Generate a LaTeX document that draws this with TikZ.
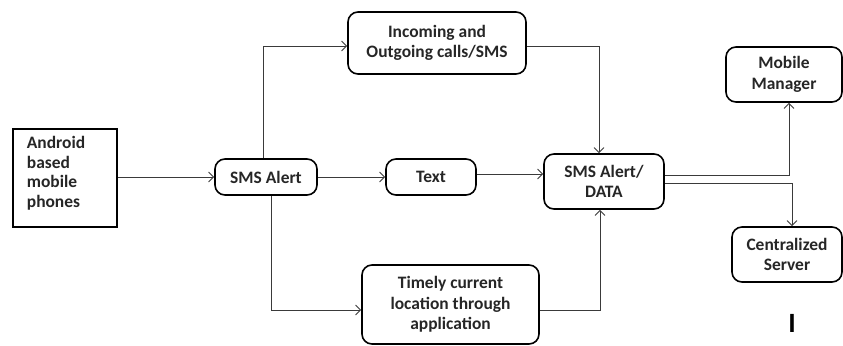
\documentclass[tikz,border=0pt]{standalone}
\usepackage{fontspec}
\setmainfont{Carlito}
\usetikzlibrary{arrows.meta,positioning}
\definecolor{txt}{HTML}{262626}
\definecolor{ln}{HTML}{3A3A3A}
\tikzset{
  box/.style={draw=black,line width=1.6pt,rounded corners=10bp,align=center,inner sep=2pt,
    font=\fontsize{17.5}{20.5}\selectfont\bfseries,text=txt},
  sqbox/.style={draw=black,line width=1.8pt,align=left,inner sep=2pt,
    font=\fontsize{17.5}{20}\selectfont\bfseries,text=txt},
  arr/.style={draw=ln,line width=0.9pt,-{Straight Barb[length=5bp,width=10bp,line width=0.9pt]}}
}
\begin{document}
\begin{tikzpicture}[x=1bp,y=-1bp]
\useasboundingbox[fill=white] (0,0) rectangle (843,345);
\node[sqbox,minimum width=104bp,minimum height=98bp] (android) at (65,178) {};
\node[sqbox,draw=none,anchor=north west,text width=90bp] (androidtxt) at (24,133) {Android\\based\\mobile\\phones};
\node[box,minimum width=102bp,minimum height=36bp] (sms) at (266,177) {SMS Alert};
\node[box,minimum width=90bp,minimum height=36bp] (text) at (431,177) {Text};
\node[box,minimum width=120bp,minimum height=55bp] (data) at (604,181.5) {SMS Alert/\\DATA};
\node[box,minimum width=178bp,minimum height=62bp] (inc) at (437,43) {Incoming and\\Outgoing calls/SMS};
\node[box,minimum width=116bp,minimum height=55bp] (mm) at (784,74.5) {Mobile\\Manager};
\node[box,minimum width=110bp,minimum height=55bp] (cs) at (787,254.5) {Centralized\\Server};
\node[box,minimum width=177bp,minimum height=79bp] (tim) at (450.5,304.5) {Timely current\\location through\\application};
\node[font=\fontsize{28}{28}\selectfont\bfseries,text=black,inner sep=0pt] (cur) at (792,323) {I};
\draw[arr] (android.east |- sms.west) -- (sms.west);
\draw[arr] ([xshift=-3bp]sms.north) |- ([yshift=-3bp]inc.west);
\draw[arr] (sms.east) -- (text.west);
\draw[arr] ([yshift=3bp]text.east) -- ([yshift=3bp]text.east -| data.west);
\draw[arr] ([yshift=-3bp]inc.east) -| ([xshift=-5bp]data.north);
\draw[arr] ([xshift=5bp]sms.south) |- ([yshift=-5.5bp]tim.west);
\draw[arr] ([yshift=-5.5bp]tim.east) -| ([xshift=-4bp]data.south);
\draw[arr] ([yshift=6.5bp]data.east) -| ([xshift=5bp]mm.south);
\draw[arr] ([yshift=-1.5bp]data.east) -| ([xshift=5bp]cs.north);
\end{tikzpicture}
\end{document}
